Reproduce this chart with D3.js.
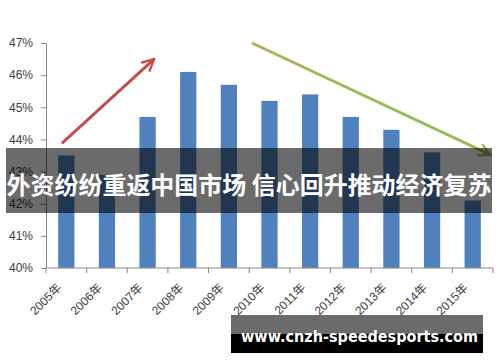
<!DOCTYPE html>
<html><head><meta charset="utf-8">
<script src="https://cdn.jsdelivr.net/npm/d3@7"></script>
<style>
html,body{margin:0;padding:0;background:#fff;}
svg{display:block;}
</style>
</head><body>
<svg id="c" width="500" height="362"></svg>
<script>
const categories = ["2005年","2006年","2007年","2008年","2009年","2010年","2011年","2012年","2013年","2014年","2015年"];
const values = [43.5, 42.9, 44.7, 46.1, 45.7, 45.2, 45.4, 44.7, 44.3, 43.6, 42.1];
const yTicks = [40, 41, 42, 43, 44, 45, 46, 47];
const title = "外资纷纷重返中国市场 信心回升推动经济复苏";
const watermark = "www.cnzh-speedesports.com";
// arrows in data space: [category position (fractional index), value]
const redArrow = [[0.39, 43.88], [2.66, 46.5]];
const greenArrow = [[5.07, 47.0], [10.94, 43.52]];

(function () {
const svg = d3.select("#c");
const mLeft = 46, mRight = 493, mTop = 43, mBottom = 268;

const x = d3.scaleBand().domain(categories).range([mLeft, mRight]).paddingInner(0.6).paddingOuter(0.3);
const pos = d3.scaleLinear().domain([0, categories.length]).range([mLeft, mRight]);
const y = d3.scaleLinear().domain([40, 47]).range([mBottom, mTop]);

const font = "'Liberation Sans','Noto Sans CJK SC',sans-serif";

// bars
svg.append("g").selectAll("rect").data(values).join("rect")
  .attr("x", (d, i) => x(categories[i]))
  .attr("width", x.bandwidth())
  .attr("y", d => y(d))
  .attr("height", d => y(40) - y(d))
  .attr("fill", "#4f81bd");

// y axis
const ya = svg.append("g").attr("transform", `translate(${mLeft},0)`)
  .call(d3.axisLeft(y).tickValues(yTicks).tickFormat(d => d + "%").tickSize(5).tickSizeOuter(0));
ya.select(".domain").attr("stroke", "#868686");
ya.selectAll(".tick line").attr("stroke", "#868686");
ya.selectAll(".tick text").attr("font-family", font).attr("font-size", 12).attr("fill", "#404040").attr("x", -13);

// x axis
const xa = svg.append("g").attr("transform", `translate(0,${mBottom})`);
xa.append("line").attr("x1", mLeft).attr("x2", mRight).attr("y1", 0).attr("y2", 0).attr("stroke", "#868686");
xa.selectAll("line.t").data(d3.range(categories.length + 1)).join("line").attr("class","t")
  .attr("x1", d => pos(d)).attr("x2", d => pos(d)).attr("y1", 0).attr("y2", 5).attr("stroke", "#868686");
xa.selectAll("text").data(categories).join("text")
  .attr("transform", d => `translate(${x(d) + x.bandwidth()/2 - 4},${20.5}) rotate(-45)`)
  .attr("text-anchor", "end")
  .attr("font-family", font).attr("font-size", 12).attr("fill", "#404040")
  .text(d => d);

// arrows
function arrow(pts, color, id) {
  const defs = svg.append("defs");
  defs.append("marker").attr("id", id).attr("viewBox", "0 0 10 10").attr("refX", 9).attr("refY", 5)
    .attr("markerWidth", 5).attr("markerHeight", 5).attr("orient", "auto").attr("markerUnits","strokeWidth")
    .append("path").attr("d", "M1,1 L9,5 L1,9").attr("fill", "none").attr("stroke", color).attr("stroke-width", 1.6);
  svg.append("line")
    .attr("x1", pos(pts[0][0])).attr("y1", y(pts[0][1]))
    .attr("x2", pos(pts[1][0])).attr("y2", y(pts[1][1]))
    .attr("stroke", color).attr("stroke-width", 3).attr("marker-end", `url(#${id})`);
}
arrow(redArrow, "#c0504d", "ar");
arrow(greenArrow, "#9bbb59", "ag");

// title band
svg.append("rect").attr("x", 6).attr("y", 148).attr("width", 486).attr("height", 65).attr("fill", "rgba(0,0,0,0.58)");
svg.append("text").attr("x", 249).attr("y", 183).attr("text-anchor", "middle").attr("dominant-baseline", "central")
  .attr("font-family", "'Noto Sans CJK SC',sans-serif").attr("font-weight", "bold").attr("font-size", 24)
  .attr("fill", "#fff").attr("textLength", 485).attr("lengthAdjust", "spacingAndGlyphs").text(title);

// watermark box
svg.append("rect").attr("x", 231).attr("y", 315).attr("width", 252).attr("height", 38).attr("fill", "#000");
svg.append("rect").attr("x", 231).attr("y", 315).attr("width", 252).attr("height", 19).attr("fill", "#6b6b6b");
svg.append("text").attr("x", 241).attr("y", 342).attr("font-family", "'DejaVu Sans',sans-serif").attr("font-weight", "bold")
  .attr("font-size", 15).attr("fill", "#fff").attr("textLength", 237).attr("lengthAdjust", "spacingAndGlyphs").text(watermark);
})();
</script>
</body></html>
